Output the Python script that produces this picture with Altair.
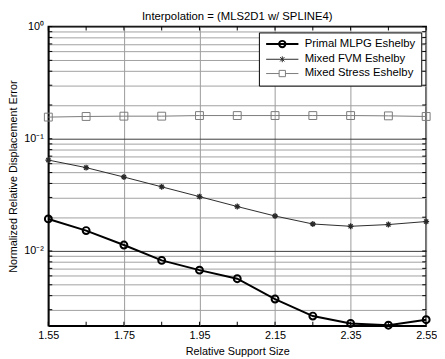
import altair as alt
import pandas as pd

# ---- data ----
support = [1.55, 1.65, 1.75, 1.85, 1.95, 2.05, 2.15, 2.25, 2.35, 2.45, 2.55]
primal = [0.0193, 0.0152, 0.0113, 0.00824, 0.00675, 0.00566, 0.00373, 0.00263, 0.00226, 0.00218, 0.00244]
fvm = [0.0646, 0.0553, 0.0456, 0.0373, 0.0305, 0.0249, 0.0205, 0.0174, 0.0166, 0.0172, 0.0183]
stress = [0.156, 0.158, 0.159, 0.159, 0.161, 0.161, 0.161, 0.161, 0.161, 0.160, 0.158]

series_names = ["Primal MLPG Eshelby", "Mixed FVM Eshelby", "Mixed Stress Eshelby"]
series_values = [primal, fvm, stress]
series_colors = ["#000000", "#2a2a2a", "#7a7a7a"]
series_widths = [2.0, 1.0, 1.0]

x_ticks = [1.55, 1.65, 1.75, 1.85, 1.95, 2.05, 2.15, 2.25, 2.35, 2.45, 2.55]
y_ticks = [0.003, 0.004, 0.005, 0.006, 0.007, 0.008, 0.009,
           0.01, 0.02, 0.03, 0.04, 0.05, 0.06, 0.07, 0.08, 0.09,
           0.1, 0.2, 0.3, 0.4, 0.5, 0.6, 0.7, 0.8, 0.9, 1.0]
y_domain = [0.00216, 1.0]
x_domain = [1.55, 2.55]

# marker shapes (unit square paths)
circle_path = "M1,0A1,1,0,1,1,-1,0A1,1,0,1,1,1,0Z"
star_path = "M-1,0H1M0,-1V1M-0.7,-0.7L0.7,0.7M-0.7,0.7L0.7,-0.7"
square_path = "M-1,-1H1V1H-1Z"
marker_paths = [circle_path, star_path, square_path]
marker_sizes = [49, 36, 64]
marker_widths = [2.0, 1.3, 1.0]

# legend symbols: line + marker
legend_paths = [
    "M-4.1,0H4.1M0.8,0A0.8,0.8,0,1,1,-0.8,0A0.8,0.8,0,1,1,0.8,0Z",
    "M-4.1,0H4.1M0,-0.75V0.75M-0.55,-0.55L0.55,0.55M-0.55,0.55L0.55,-0.55",
    "M-4.1,0H-0.8M0.8,0H4.1M-0.8,-0.8H0.8V0.8H-0.8Z",
]

rows = []
for name, vals in zip(series_names, series_values):
    for x, v in zip(support, vals):
        rows.append({"support": x, "error": v, "series": name})
df = pd.DataFrame(rows)

W, H = 384, 304
FONT = "Liberation Sans"

xscale = alt.Scale(domain=x_domain, nice=False, zero=False)
yscale = alt.Scale(type="log", domain=y_domain, nice=False)

major_test = "abs(log(datum.value)/LN10 - round(log(datum.value)/LN10)) < 0.001"
label_expr = ("datum.value == 1 ? '10\u2070' : datum.value == 0.1 ? '10\u207b\u00b9' : "
              "datum.value == 0.01 ? '10\u207b\u00b2' : ''")

x_axis = alt.Axis(values=x_ticks, format=".2f", title="Relative Support Size",
                  grid=True, gridColor="#9a9a9a", gridWidth=1, ticks=False,
                  labelPadding=4, titlePadding=5, labelFlush=False, labelOverlap=False)
y_axis = alt.Axis(values=y_ticks, labelExpr=label_expr,
                  title="Normalized Relative Displacement Error",
                  grid=True,
                  gridColor={"condition": {"test": major_test, "value": "#3a3a3a"}, "value": "#a0a0a0"},
                  ticks=False, labelPadding=5, titlePadding=5.5,
                  labelOverlap=False, labelFlush=False)

base = alt.Chart(df)
layers = []
for name, color, width, path, size, mw in zip(series_names, series_colors, series_widths,
                                              marker_paths, marker_sizes, marker_widths):
    sub = base.transform_filter(alt.datum.series == name)
    layers.append(
        sub.mark_line(color=color, strokeWidth=width).encode(
            x=alt.X("support:Q", scale=xscale, axis=x_axis),
            y=alt.Y("error:Q", scale=yscale, axis=y_axis),
        )
    )
    layers.append(
        sub.mark_point(shape=path, filled=False, size=size, color=color,
                       strokeWidth=mw, opacity=1).encode(
            x=alt.X("support:Q", scale=xscale),
            y=alt.Y("error:Q", scale=yscale),
        )
    )

legend = alt.Legend(title=None, orient="none", legendX=214, legendY=6,
                    fillColor="white", strokeColor="black", padding=6,
                    symbolSize=64, symbolOffset=12, labelOffset=17,
                    labelFont=FONT, labelFontSize=11.5, labelColor="black",
                    rowPadding=1.5, symbolFillColor="transparent")

legend_layer = base.transform_filter("false").mark_point(filled=False, opacity=1).encode(
    x=alt.X("support:Q", scale=xscale),
    y=alt.Y("error:Q", scale=yscale),
    color=alt.Color("series:N", scale=alt.Scale(domain=series_names, range=series_colors), legend=legend),
    shape=alt.Shape("series:N", scale=alt.Scale(domain=series_names, range=legend_paths), legend=legend),
    strokeWidth=alt.StrokeWidth("series:N", scale=alt.Scale(type="ordinal", domain=series_names, range=series_widths), legend=legend),
)

# inward tick marks on all four sides
yt = pd.DataFrame({"error": y_ticks})
xt = pd.DataFrame({"support": x_ticks})
tick_left = alt.Chart(yt).mark_rule(color="black", strokeWidth=1).encode(
    y=alt.Y("error:Q", scale=yscale), x=alt.value(0), x2=alt.value(4))
tick_right = alt.Chart(yt).mark_rule(color="black", strokeWidth=1).encode(
    y=alt.Y("error:Q", scale=yscale), x=alt.value(W - 4), x2=alt.value(W))
tick_bottom = alt.Chart(xt).mark_rule(color="black", strokeWidth=1).encode(
    x=alt.X("support:Q", scale=xscale), y=alt.value(H - 4), y2=alt.value(H))
tick_top = alt.Chart(xt).mark_rule(color="black", strokeWidth=1).encode(
    x=alt.X("support:Q", scale=xscale), y=alt.value(0), y2=alt.value(4))

chart = alt.layer(*layers, tick_left, tick_right, tick_bottom, tick_top, legend_layer).properties(
    width=W, height=H,
    title=alt.TitleParams("Interpolation = (MLS2D1 w/ SPLINE4)", font=FONT, fontSize=11.5,
                          fontWeight="normal", color="black", offset=4, anchor="middle",
                          frame="group", dy=6),
    autosize=alt.AutoSizeParams(type="none"),
    padding={"left": 41, "top": 16, "right": 11, "bottom": 30},
).configure_axis(
    labelFont=FONT, labelFontSize=11, labelColor="black",
    titleFont=FONT, titleFontSize=11, titleFontWeight="normal", titleColor="black",
    domainColor="black", domainWidth=1.5,
).configure_view(
    stroke="black", strokeWidth=1.5
).configure_legend(
    strokeWidth=1
)

chart.save("out.html", embed_options={"renderer": "svg", "actions": False})
